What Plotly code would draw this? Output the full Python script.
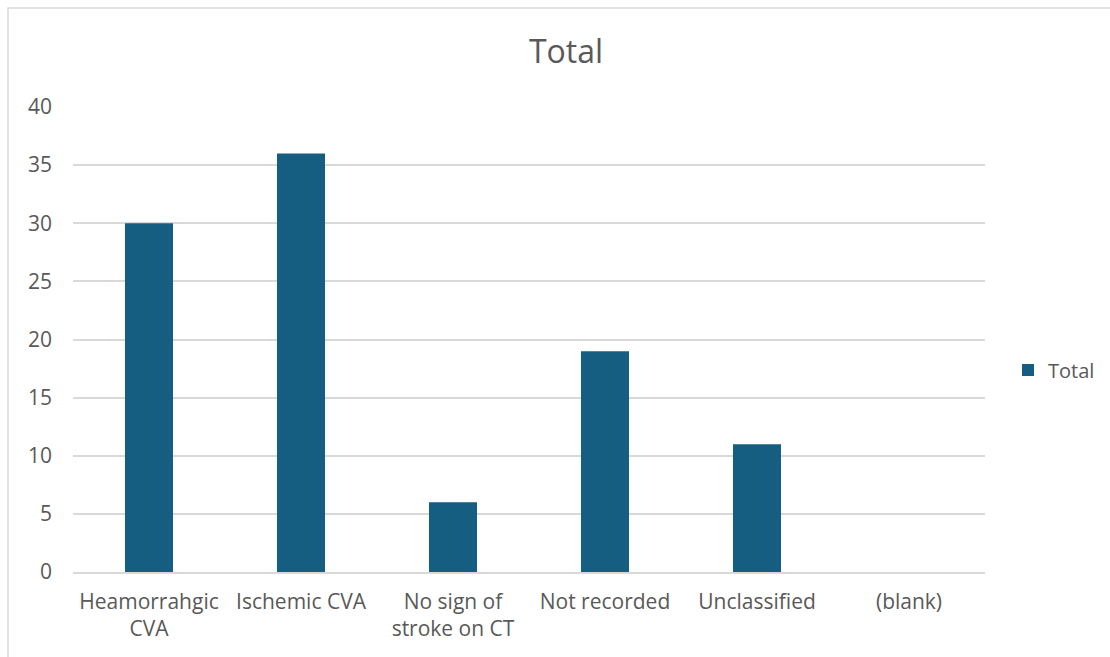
import plotly.graph_objects as go

# Stroke classification counts
categories = ["Heamorrahgic CVA", "Ischemic CVA", "No sign of stroke on CT",
              "Not recorded", "Unclassified", "(blank)"]
tick_labels = ["Heamorrahgic<br>CVA", "Ischemic CVA", "No sign of<br>stroke on CT",
               "Not recorded", "Unclassified", "(blank)"]
totals = [30, 36, 6, 19, 11, None]

W, H = 1110, 657
L, R, T, B = 73, 125, 107, 85
TEXT = "#595959"
FONT = "Open Sans"

fig = go.Figure()
fig.add_trace(go.Bar(
    x=categories, y=totals, name="Total",
    marker=dict(color="#155E82", line=dict(width=0)),
))

# Chart-area frame (top-left corner visible)
pw, ph = W - L - R, H - T - B
fx0 = (8 - L) / pw
fy1 = (H - B - 8) / ph
fig.add_shape(type="rect", xref="paper", yref="paper",
              x0=fx0, x1=(W + 20 - L) / pw, y0=-(B + 20) / ph, y1=fy1,
              line=dict(color="#D9D9D9", width=1.5), layer="below")

fig.update_layout(
    width=W, height=H,
    margin=dict(l=L, r=R, t=T, b=B, autoexpand=False),
    paper_bgcolor="white", plot_bgcolor="white",
    bargap=0.684,
    title=dict(text="Total", x=566 / W, xref="container", xanchor="center",
               y=1 - 52 / H, yanchor="middle",
               font=dict(family=FONT, size=32, color=TEXT)),
    font=dict(family=FONT, color=TEXT),
    showlegend=True,
    legend=dict(x=(1008 - L) / pw, xanchor="left", y=(H - B - 370) / ph, yanchor="middle",
                font=dict(family=FONT, size=20, color=TEXT),
                itemwidth=30, bgcolor="rgba(0,0,0,0)"),
    xaxis=dict(tickmode="array", tickvals=categories, ticktext=tick_labels,
               showgrid=False, showline=True, linecolor="#D9D9D9", linewidth=1.5,
               ticks="", tickfont=dict(family=FONT, size=21, color=TEXT),
               ticklabelstandoff=10, fixedrange=True),
    yaxis=dict(range=[0, 40], dtick=5, showgrid=True, gridcolor="#D9D9D9",
               gridwidth=1.5, zeroline=False, showline=False, ticks="",
               tickfont=dict(family=FONT, size=21, color=TEXT),
               ticklabelstandoff=20, fixedrange=True),
)

fig.write_html("out.html")
